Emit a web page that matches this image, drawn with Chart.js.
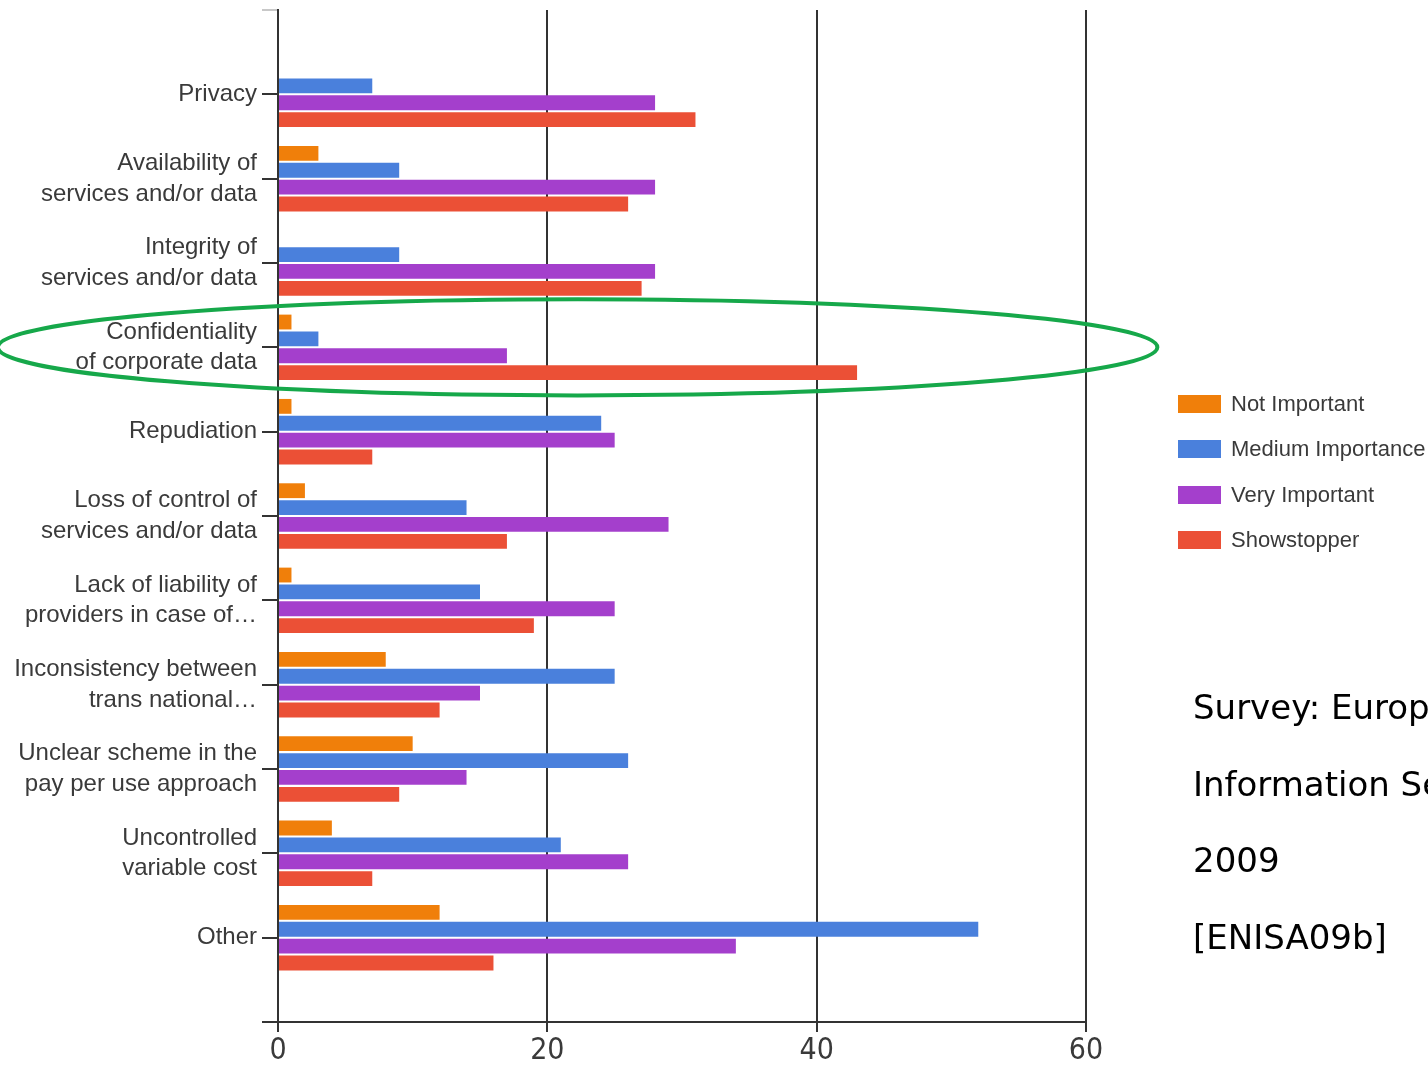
<!DOCTYPE html>
<html>
<head>
<meta charset="utf-8">
<script src="https://cdn.jsdelivr.net/npm/chart.js@4/dist/chart.umd.min.js"></script>
<style>
  html, body { margin: 0; padding: 0; background: #fff; overflow: hidden; }
  #wrap { position: relative; width: 1428px; height: 1067px; overflow: hidden; }
  #chartBox { position: absolute; left: 0; top: 0; width: 1428px; height: 1067px; }
  #legend { position: absolute; left: 1178px; top: 395px; font-family: 'Liberation Sans', Arial, sans-serif; font-size: 22px; color: #3a3a3a; }
  .lg-row { height: 45.3px; position: relative; white-space: nowrap; }
  .lg-box { position: absolute; left: 0; top: 0; width: 43px; height: 18px; }
  .lg-text { position: absolute; left: 53px; top: -4px; line-height: 26px; }
  #note { position: absolute; left: 1193px; top: 669px; font-family: 'DejaVu Sans', sans-serif; font-size: 34px; line-height: 76.7px; color: #000; white-space: nowrap; }
</style>
</head>
<body>
<div id="wrap">
  <div id="chartBox"><canvas id="c"></canvas></div>
  <div id="legend"></div>
  <div id="note"></div>
</div>
<script>
// ---- data ----
const categories = [
  ['Privacy'],
  ['Availability of', 'services and/or data'],
  ['Integrity of', 'services and/or data'],
  ['Confidentiality', 'of corporate data'],
  ['Repudiation'],
  ['Loss of control of', 'services and/or data'],
  ['Lack of liability of', 'providers in case of…'],
  ['Inconsistency between', 'trans national…'],
  ['Unclear scheme in the', 'pay per use approach'],
  ['Uncontrolled', 'variable cost'],
  ['Other']
];
const seriesNames = ['Not Important', 'Medium Importance', 'Very Important', 'Showstopper'];
const notImportant = [0, 3, 0, 1, 1, 2, 1, 8, 10, 4, 12];
const mediumImportance = [7, 9, 9, 3, 24, 14, 15, 25, 26, 21, 52];
const veryImportant = [28, 28, 28, 17, 25, 29, 25, 15, 14, 26, 34];
const showstopper = [31, 26, 27, 43, 7, 17, 19, 12, 9, 7, 16];
const xTicks = [0, 20, 40, 60];
const noteLines = ['Survey: European Network and', 'Information Security Agency,', '2009', '[ENISA09b]'];

// highlighted category (ellipse annotation), in data units
const highlightIndex = 3;
const ellipseXRange = [-20.8, 65.3];
const ellipseHalfHeight = 0.57;

// ---- styles ----
const colors = ['#f07f0a', '#4a80dc', '#a43fcc', '#eb5036'];
const seriesValues = [notImportant, mediumImportance, veryImportant, showstopper];

const datasets = seriesNames.map((name, s) => ({
  label: name,
  data: seriesValues[s].map((v, i) => ({ x: v, y: i })),
  backgroundColor: colors[s],
  borderWidth: 0,
  categoryPercentage: 0.8,
  barPercentage: 0.88
}));

const ellipsePlugin = {
  id: 'ellipse',
  afterDatasetsDraw(chart) {
    const xs = chart.scales.x, ys = chart.scales.y, ctx = chart.ctx;
    const x1 = xs.getPixelForValue(ellipseXRange[0]);
    const x2 = xs.getPixelForValue(ellipseXRange[1]);
    const cy = ys.getPixelForValue(highlightIndex);
    const ry = Math.abs(ys.getPixelForValue(highlightIndex + ellipseHalfHeight) - cy);
    ctx.save();
    ctx.beginPath();
    ctx.ellipse((x1 + x2) / 2, cy, (x2 - x1) / 2, ry, 0, 0, Math.PI * 2);
    ctx.strokeStyle = '#16a84a';
    ctx.lineWidth = 4;
    ctx.stroke();
    ctx.restore();
  }
};

new Chart(document.getElementById('c'), {
  type: 'bar',
  data: { datasets },
  plugins: [ellipsePlugin],
  options: {
    indexAxis: 'y',
    responsive: true,
    maintainAspectRatio: false,
    animation: false,
    layout: { padding: { left: 0, top: 10, right: 342, bottom: 0 } },
    plugins: { legend: { display: false }, tooltip: { enabled: false } },
    scales: {
      x: {
        type: 'linear',
        min: xTicks[0],
        max: xTicks[xTicks.length - 1],
        afterBuildTicks(scale) { scale.ticks = xTicks.map(v => ({ value: v })); },
        grid: { color: '#333', lineWidth: 2, tickLength: 10, drawTicks: true },
        border: { display: true, color: '#333', width: 2 },
        ticks: {
          color: '#3a3a3a',
          padding: 4,
          font: { family: "'Liberation Sans Narrow', 'DejaVu Sans Condensed', 'Liberation Sans', sans-serif", size: 30, lineHeight: 1 }
        },
        afterFit(scale) { scale.height = 45; }
      },
      y: {
        type: 'linear',
        reverse: true,
        offset: false,
        min: -1,
        max: categories.length,
        afterBuildTicks(scale) {
          const t = [];
          for (let i = -1; i <= categories.length; i++) t.push({ value: i });
          scale.ticks = t;
        },
        grid: {
          offset: false,
          drawOnChartArea: false,
          drawTicks: true,
          tickLength: 16,
          lineWidth: 2,
          color: (ctx) => (ctx.tick && ctx.tick.value === -1) ? '#c8c8c8' : '#333'
        },
        border: { display: true, color: '#333', width: 2 },
        ticks: {
          autoSkip: false,
          color: '#3a3a3a',
          padding: 5,
          font: { family: "'Liberation Sans', Arial, sans-serif", size: 24, lineHeight: 1.28 },
          callback(v) {
            return (v >= 0 && v < categories.length) ? categories[v] : '';
          }
        },
        afterFit(scale) { scale.width = 278; scale.paddingTop = 0; scale.paddingBottom = 0; }
      }
    }
  }
});

// legend
const lg = document.getElementById('legend');
seriesNames.forEach((name, s) => {
  const row = document.createElement('div');
  row.className = 'lg-row';
  const box = document.createElement('div');
  box.className = 'lg-box';
  box.style.background = colors[s];
  const txt = document.createElement('div');
  txt.className = 'lg-text';
  txt.textContent = name;
  row.appendChild(box); row.appendChild(txt);
  lg.appendChild(row);
});
const note = document.getElementById('note');
noteLines.forEach(l => { const d = document.createElement('div'); d.textContent = l; note.appendChild(d); });
</script>
</body>
</html>
